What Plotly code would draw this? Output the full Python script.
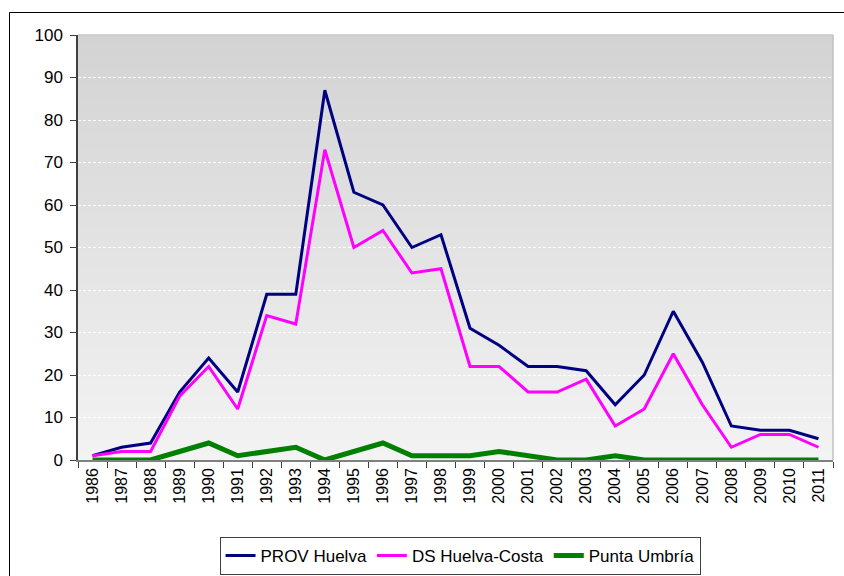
import plotly.graph_objects as go

years = [str(y) for y in range(1986, 2012)]
prov_huelva = [1, 3, 4, 16, 24, 16, 39, 39, 87, 63, 60, 50, 53, 31, 27, 22, 22, 21, 13, 20, 35, 23, 8, 7, 7, 5]
ds_huelva_costa = [1, 2, 2, 15, 22, 12, 34, 32, 73, 50, 54, 44, 45, 22, 22, 16, 16, 19, 8, 12, 25, 13, 3, 6, 6, 3]
punta_umbria = [0, 0, 0, 2, 4, 1, 2, 3, 0, 2, 4, 1, 1, 1, 2, 1, 0, 0, 1, 0, 0, 0, 0, 0, 0, 0]
y_ticks = list(range(0, 101, 10))

W, H = 844, 576
L, R, T, B = 78, 11, 35, 116
pw, ph = W - L - R, H - T - B

fig = go.Figure()
fig.add_trace(go.Scatter(x=years, y=prov_huelva, mode="lines", name="PROV Huelva",
                         line=dict(color="#000080", width=3)))
fig.add_trace(go.Scatter(x=years, y=ds_huelva_costa, mode="lines", name="DS Huelva-Costa",
                         line=dict(color="#FF00FF", width=3)))
fig.add_trace(go.Scatter(x=years, y=punta_umbria, mode="lines", name="Punta Umbría",
                         line=dict(color="#008000", width=5)))

shapes = []
n = 60
top_c = (211, 211, 211)
bot_c = (243, 243, 243)
for i in range(n):
    t = i / (n - 1)
    c = tuple(round(bot_c[k] + (top_c[k] - bot_c[k]) * t) for k in range(3))
    shapes.append(dict(type="rect", xref="paper", yref="paper", x0=0, x1=1,
                       y0=i / n, y1=(i + 1) / n + 0.002, layer="below",
                       line=dict(width=0), fillcolor="rgb(%d,%d,%d)" % c))
shapes.append(dict(type="line", xref="paper", yref="paper", x0=0, x1=1, y0=1, y1=1,
                   line=dict(color="#c8c8c8", width=1), layer="below"))
shapes.append(dict(type="line", xref="paper", yref="paper", x0=1, x1=1, y0=0, y1=1,
                   line=dict(color="#c0c0c0", width=1.5), layer="below"))
# outer chart frame
shapes.append(dict(type="rect", xref="paper", yref="paper",
                   x0=(9.5 - L) / pw, x1=(W + 5 - L) / pw,
                   y0=-(H + 5 - T - ph) / ph, y1=1 + (T - 12.5) / ph,
                   line=dict(color="#000000", width=1), fillcolor="rgba(0,0,0,0)"))
fig.update_layout(shapes=shapes)

fig.update_layout(
    width=W, height=H,
    margin=dict(l=L, r=R, t=T, b=B, autoexpand=False),
    paper_bgcolor="white",
    plot_bgcolor="rgba(0,0,0,0)",
    font=dict(family="Liberation Sans, Arial, sans-serif", size=16, color="#000000"),
    showlegend=True,
    legend=dict(orientation="h", x=0.506, xanchor="center", y=-0.181, yanchor="top",
                bordercolor="#404040", borderwidth=1, bgcolor="white",
                font=dict(size=17), tracegroupgap=0),
)
fig.update_xaxes(
    type="category", tickangle=-90, showgrid=False,
    showline=True, linecolor="#808080", linewidth=1.5,
    ticks="outside", ticklen=6, tickcolor="#404040", tickson="boundaries",
    tickfont=dict(size=16), range=[-0.5, len(years) - 0.5],
)
fig.update_yaxes(
    range=[0, 100], tickvals=y_ticks, showgrid=True, gridcolor="white",
    griddash="3px,2px", gridwidth=1, zeroline=False,
    showline=True, linecolor="#404040", linewidth=1.5,
    ticks="outside", ticklen=6, tickcolor="#404040",
    tickfont=dict(size=17), ticklabelstandoff=4,
)

fig.write_html(
    "out.html",
    config={"displayModeBar": False},
    post_script="document.body.style.margin='0';document.body.style.overflow='hidden';",
)
